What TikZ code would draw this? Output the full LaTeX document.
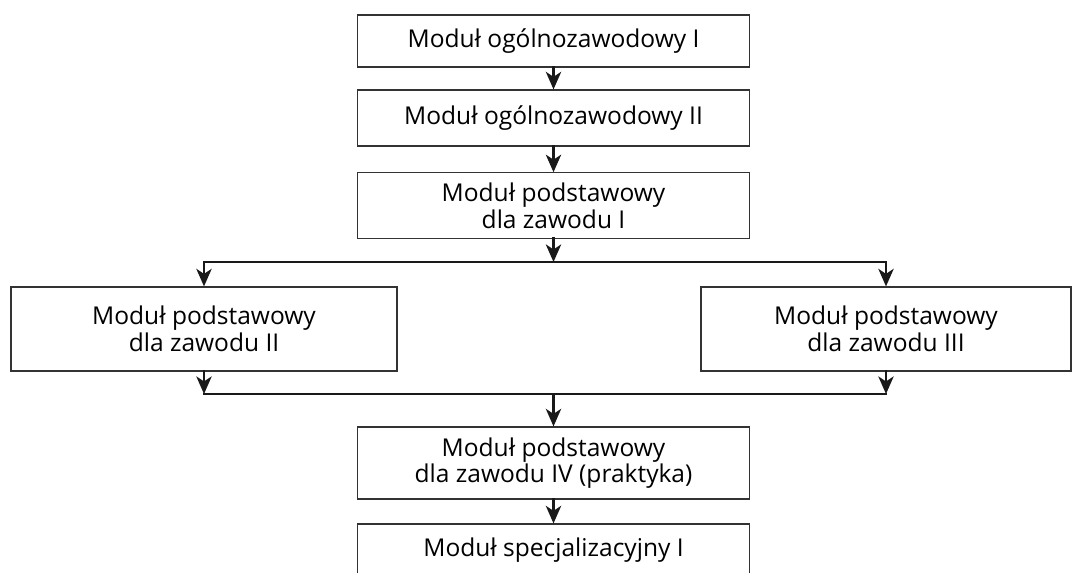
\documentclass[tikz,border=0pt]{standalone}
\usepackage{fontspec}
\setmainfont{Open Sans}
\usepackage{tikz}
\usetikzlibrary{arrows.meta, positioning}
\tikzset{>={Stealth[width=4mm,length=4.6mm,inset=1.3mm]}}

\begin{document}
\begin{tikzpicture}[
    x = 0.75pt, y = -0.75pt,
    box/.style = {draw=black!80, line width=0.9pt, minimum width=294pt,
        inner sep=0pt, align=center,
        font=\fontsize{18.4}{20}\selectfont},
    link/.style = {line width=2.1pt, black!90, line cap=rect}
  ]
  \clip (0,0) rectangle (1074,572);

  % boxes
  \node[box, minimum height=39pt] (OG1) at (553.5,41) {Moduł ogólnozawodowy I};
  \node[box, minimum height=42pt] (OG2) at (553.5,118) {Moduł ogólnozawodowy II};
  \node[box, minimum height=49pt] (PD1) at (553.5,205.5) {Moduł podstawowy\\dla zawodu I};
  \node[box, minimum height=63pt, minimum width=289.5pt] (PD2) at (204,329)
    {Moduł podstawowy\\dla zawodu II};
  \node[box, minimum height=63pt, minimum width=277.5pt] (PD3) at (886,329)
    {Moduł podstawowy\\dla zawodu III};
  \node[box, minimum height=54pt] (PD4) at (553.5,463) {Moduł podstawowy\\dla zawodu IV (praktyka)};
  \node[box, minimum height=39pt] (SP1) at (553.5,550) {Moduł specjalizacyjny I};

  \coordinate (J1) at (553.5,262);
  \coordinate (J2) at (553.5,394);

  % connectors
  \draw[link,->] (OG1) -- (OG2);
  \draw[link,->] (OG2) -- (PD1);
  \draw[link,->] (PD1) -- (J1);
  \draw[link,->] (J1) -| (PD2);
  \draw[link,->] (J1) -| (PD3);
  \draw[link] (PD2 |- J2) -- (PD3 |- J2);
  \draw[link,->] (PD2) -- (PD2 |- J2);
  \draw[link,->] (PD3) -- (PD3 |- J2);
  \draw[link,->] (J2) -- (PD4);
  \draw[link,->] (PD4) -- (SP1);
\end{tikzpicture}
\end{document}
